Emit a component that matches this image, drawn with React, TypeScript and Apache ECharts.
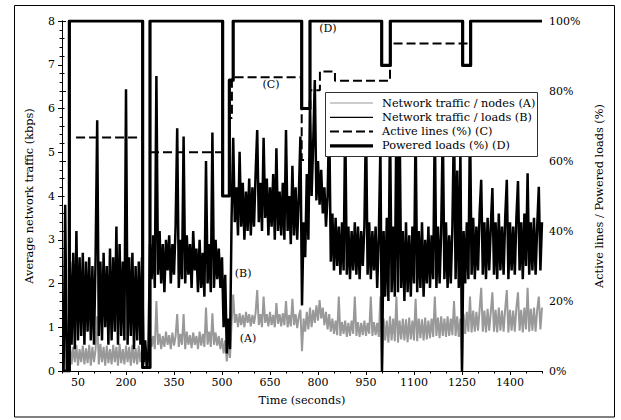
import React, { useEffect, useRef } from "react";
import * as echarts from "echarts";

// Sampling step of the traffic series (seconds)
const TIME_STEP = 5;

// Network traffic / nodes (A), kbps, one value every 5 s from t = 0 to 1500
const trafficNodes: number[] = [
  0, 0, 0, 0, 0, 0.6, 0.15, 0.55, 0.2, 0.6,
  0.12, 0.5, 0.2, 0.58, 0.15, 0.52, 0.18, 0.6, 0.12, 0.55,
  0.2, 0.5, 1.25, 0.15, 0.62, 0.2, 0.55, 0.12, 0.58, 0.18,
  0.5, 0.15, 0.6, 0.2, 0.55, 0.12, 0.62, 0.18, 0.5, 0.15,
  0.58, 0.2, 0.55, 0.12, 0.6, 0.18, 0.52, 0.15, 0.58, 0.2,
  0.5, 0.15, 0.45, 0.08, 0.3, 0.85, 0.55, 0.8, 0.5, 1.6,
  0.6, 0.85, 0.5, 0.8, 0.55, 0.9, 0.6, 0.82, 0.5, 0.88,
  0.58, 0.8, 1.3, 0.55, 0.85, 0.6, 1.3, 0.5, 0.9, 0.6,
  0.82, 0.52, 0.88, 0.6, 0.8, 0.5, 0.9, 0.58, 0.85, 0.55,
  1.45, 0.6, 0.9, 0.55, 1.32, 0.6, 0.88, 0.58, 0.8, 0.5,
  0.75, 0.4, 0.7, 0.22, 0.6, 0.3, 1.1, 1.75, 1.1, 1.3,
  1.0, 1.32, 1.05, 1.28, 1.0, 1.35, 1.1, 1.3, 1.02, 1.28,
  1.08, 1.33, 1.85, 1.05, 1.3, 1.0, 1.7, 1.1, 1.3, 1.02,
  1.35, 1.05, 1.28, 1.0, 1.55, 1.08, 1.3, 1.02, 1.32, 1.05,
  1.6, 1.0, 1.28, 1.02, 1.65, 1.05, 1.3, 0.98, 1.25, 1.4,
  0.45, 1.2, 0.9, 1.35, 0.95, 1.45, 1.0, 1.4, 1.1, 1.5,
  1.15, 1.62, 1.2, 1.45, 1.05, 1.35, 0.95, 1.3, 0.9, 1.2,
  0.85, 1.15, 0.82, 1.7, 0.8, 1.12, 0.85, 1.15, 0.78, 1.1,
  0.8, 1.15, 0.85, 1.7, 0.8, 1.12, 0.78, 1.1, 0.82, 1.15,
  0.8, 1.1, 0.85, 1.7, 0.8, 1.12, 0.82, 1.1, 0.78, 1.7,
  0, 1.2, 0.7, 1.15, 0.65, 1.25, 0.7, 1.2, 0.68, 1.7,
  0.65, 1.15, 0.72, 1.2, 0.7, 1.18, 0.66, 1.22, 0.72, 1.15,
  0.7, 1.65, 0.68, 1.2, 0.75, 1.18, 0.7, 1.22, 0.72, 1.15,
  0.75, 1.2, 0.78, 1.7, 0.8, 1.22, 0.75, 1.25, 0.8, 1.2,
  0.78, 1.25, 0.8, 1.2, 0.82, 1.6, 0.8, 1.25, 0.78, 1.2,
  0, 1.3, 0.85, 1.35, 0.9, 1.7, 0.88, 1.38, 0.9, 1.35,
  0.92, 1.4, 1.9, 0.9, 1.38, 0.88, 1.42, 0.92, 1.35, 1.8,
  0.9, 1.4, 0.88, 1.45, 0.92, 1.38, 0.9, 1.42, 1.85, 0.88,
  1.4, 0.92, 1.38, 0.9, 1.45, 1.8, 0.92, 1.4, 0.88, 1.45,
  0.95, 1.9, 0.9, 1.42, 0.92, 1.45, 0.9, 1.4, 1.7, 0.95,
  1.45,
];

// Network traffic / loads (B), kbps, one value every 5 s from t = 0 to 1500
const trafficLoads: number[] = [
  0, 0, 3.8, 0, 0, 2.5, 0.6, 2.7, 0.5, 3.2,
  0.7, 2.6, 0.8, 2.7, 0.6, 2.5, 0.9, 2.6, 0.7, 2.4,
  0.6, 2.6, 5.73, 0.8, 2.5, 0.7, 2.7, 1.0, 2.4, 0.6,
  2.8, 0.7, 2.6, 0.9, 3.3, 0.6, 2.9, 0.8, 2.5, 0.7,
  6.44, 0.6, 2.6, 0.8, 2.7, 0.5, 2.4, 0.7, 2.5, 0.6,
  2.6, 0.2, 0.7, 0.1, 0.4, 2.9, 2.1, 3.1, 1.9, 6.74,
  2.2, 3.2, 2.0, 2.9, 1.8, 3.0, 2.3, 3.1, 2.0, 2.9,
  2.2, 3.3, 5.55, 1.9, 3.0, 2.1, 5.36, 2.0, 3.1, 2.2,
  2.9, 1.9, 3.2, 2.3, 2.8, 1.8, 3.0, 1.9, 2.7, 1.7,
  4.8, 2.0, 2.9, 1.8, 5.45, 1.9, 3.0, 2.1, 2.8, 1.9,
  2.6, 1.0, 2.2, 0.4, 1.2, 0.5, 3.5, 5.33, 3.4, 4.2,
  3.1, 5.01, 3.3, 4.3, 3.0, 4.1, 3.2, 4.4, 3.1, 4.2,
  3.3, 4.5, 5.51, 3.4, 4.3, 3.2, 5.33, 3.5, 4.4, 3.1,
  4.2, 3.3, 4.5, 3.0, 5.09, 3.2, 4.1, 3.1, 4.3, 3.0,
  5.51, 3.2, 4.0, 2.9, 4.69, 3.1, 4.2, 3.0, 4.0, 5.36,
  1.5, 3.4, 2.6, 4.5, 3.0, 6.19, 4.0, 5.2, 6.65, 3.9,
  4.8, 3.8, 4.6, 3.6, 4.2, 3.3, 4.0, 5.8, 2.5, 3.6,
  2.3, 3.5, 2.4, 3.3, 2.2, 3.4, 2.3, 5.8, 2.2, 3.3,
  2.1, 3.2, 2.3, 3.4, 2.2, 3.3, 2.1, 3.2, 2.4, 3.3,
  5.8, 2.2, 3.4, 2.1, 3.2, 2.3, 3.3, 1.9, 3.1, 5.1,
  0, 3.2, 1.7, 3.5, 1.6, 5.8, 1.8, 3.3, 1.7, 5.8,
  1.8, 5.8, 1.9, 3.2, 1.6, 3.4, 1.8, 3.1, 1.7, 3.3,
  2.0, 5.6, 1.8, 3.2, 1.9, 3.4, 1.7, 3.0, 2.0, 3.3,
  1.9, 3.1, 2.1, 5.8, 1.9, 3.3, 2.0, 3.2, 5.6, 2.1,
  3.4, 1.9, 3.1, 2.0, 3.3, 5.8, 2.1, 4.58, 1.9, 5.1,
  0, 3.2, 2.0, 3.4, 2.1, 5.8, 2.2, 3.5, 2.1, 3.3,
  2.3, 3.6, 4.37, 2.2, 3.4, 2.1, 3.5, 2.3, 3.3, 4.18,
  2.2, 3.4, 2.1, 3.6, 2.3, 3.3, 2.2, 3.5, 4.37, 2.1,
  3.4, 2.3, 3.3, 2.2, 3.5, 4.34, 2.3, 3.4, 2.1, 3.6,
  2.4, 4.52, 2.2, 3.4, 2.3, 3.5, 2.2, 3.3, 4.21, 2.3,
  3.4,
];

// Active lines (%) (C): [time, percent], null = not drawn
const activeLines: [number, number | null][] = [
  [44, 66.7], [252, 66.7], [253, null], [274, null], [275, 62.5], [502, 62.5],
  [502, 50], [523, 50], [523, 72.3], [531, 72.3], [531, 83.9], [749, 83.9],
  [749, 60.3], [775, 60.3], [775, 80.2], [806, 80.2], [806, 85.6], [853, 85.6],
  [853, 82.9], [1025, 82.9], [1025, 93.6], [1277, 93.6], [1277, 100], [1500, 100],
];

// Powered loads (%) (D): [time, percent]
const poweredLoads: [number, number][] = [
  [0, 0], [23, 0], [23, 100], [252, 100], [252, 1], [275, 1], [275, 100],
  [502, 100], [502, 50], [523, 50], [523, 83.1], [535, 83.1], [535, 100],
  [749, 100], [749, 75], [775, 75], [775, 100], [999, 100], [999, 87.3],
  [1026, 87.3], [1026, 100], [1252, 100], [1252, 87.3], [1277, 87.3],
  [1277, 100], [1500, 100],
];

// Curve labels: [time, kbps, text]
const curveLabels: [number, number, string][] = [
  [581, 0.75, "(A)"],
  [566, 2.24, "(B)"],
  [653, 6.54, "(C)"],
  [831, 7.84, "(D)"],
];

const xLabelTicks = [50, 200, 350, 500, 650, 800, 950, 1100, 1250, 1400];

const seriesNames = [
  "Network traffic / nodes (A)",
  "Network traffic / loads (B)",
  "Active lines (%) (C)",
  "Powered loads (%) (D)",
];

const FONT = "DejaVu Serif";

const lineStyles = [
  { color: "#999", width: 2 },
  { color: "#000", width: 2.5 },
  { color: "#000", width: 2, type: [9, 4] as number[] },
  { color: "#000", width: 3.2 },
];

export default function App() {
  const ref = useRef<HTMLDivElement>(null);

  useEffect(() => {
    document.body.style.margin = "0";
    if (!ref.current) return;
    const chart = echarts.init(ref.current, undefined, { renderer: "svg" });
    const toPairs = (arr: number[]) => arr.map((v, i) => [i * TIME_STEP, v]);
    const axisCommon = {
      axisLine: { show: true, lineStyle: { color: "#000", width: 1 } },
      splitLine: { show: false },
      axisLabel: { color: "#000", fontFamily: FONT, fontSize: 11 },
      nameTextStyle: { color: "#000", fontFamily: FONT, fontSize: 11.3 },
    };

    // legend box drawn as graphic elements
    const legendX = 325;
    const legendY = 92;
    const rowH = 14.3;
    const legendChildren: any[] = [
      {
        type: "rect",
        id: "legend-box",
        z: 50,
        shape: { x: legendX + 0.5, y: legendY + 0.5, width: 212, height: 64 },
        style: { fill: "#fff", stroke: "#333", lineWidth: 1 },
      },
    ];
    seriesNames.forEach((name, i) => {
      const cy = legendY + 11 + i * rowH;
      const ls = lineStyles[i];
      legendChildren.push({
        type: "line",
        id: "legend-line-" + i,
        z: 51,
        shape: { x1: legendX + 5, y1: cy, x2: legendX + 48, y2: cy },
        style: {
          stroke: ls.color,
          lineWidth: i === 0 ? 1.1 : i === 1 ? 1.2 : ls.width,
          lineDash: (ls as any).type || null,
        },
      });
      legendChildren.push({
        type: "text",
        id: "legend-text-" + i,
        z: 51,
        x: legendX + 57,
        y: cy,
        style: {
          text: name,
          fill: "#000",
          font: `11.3px "${FONT}"`,
          verticalAlign: "middle",
          align: "left",
        },
      });
    });

    chart.setOption({
      animation: false,
      backgroundColor: "#fff",
      textStyle: { fontFamily: FONT },
      graphic: [
        ...legendChildren.map((c) => ({ ...c, silent: true })),
        {
          type: "rect",
          id: "frame",
          shape: { x: 14.5, y: 5.5, width: 600, height: 411.5 },
          style: { fill: "none", stroke: "#000", lineWidth: 1 },
          z: 100,
          silent: true,
        },
      ],
      grid: { left: 62, right: 79, top: 21, bottom: 49, containLabel: false },
      xAxis: [
        {
          ...axisCommon,
          type: "value",
          min: 0,
          max: 1500,
          name: "Time (seconds)",
          nameLocation: "middle",
          nameGap: 24,
          axisTick: { show: true, length: 4, customValues: xLabelTicks, lineStyle: { color: "#000" } },
          axisLabel: {
            ...axisCommon.axisLabel,
            margin: 6,
            customValues: xLabelTicks,
            formatter: (v: number) => String(v),
          },
        },
        {
          type: "value",
          min: 0,
          max: 1500,
          interval: 50,
          position: "bottom",
          offset: 0,
          axisLine: { show: false },
          axisTick: { show: true, length: 2.5, lineStyle: { color: "#000" } },
          axisLabel: { show: false },
          splitLine: { show: false },
        },
      ],
      yAxis: [
        {
          ...axisCommon,
          type: "value",
          min: 0,
          max: 8,
          interval: 1,
          position: "left",
          name: "Average network traffic (kbps)",
          nameLocation: "middle",
          nameGap: 27,
          nameRotate: 90,
          axisTick: { show: true, length: 4, lineStyle: { color: "#000" } },
          minorTick: { show: true, splitNumber: 5, length: 2.5, lineStyle: { color: "#000" } },
          axisLabel: { ...axisCommon.axisLabel, margin: 7 },
        },
        {
          ...axisCommon,
          type: "value",
          min: 0,
          max: 100,
          interval: 20,
          position: "right",
          name: "Active lines / Powered loads (%)",
          nameLocation: "middle",
          nameGap: 52,
          nameRotate: 90,
          axisTick: { show: true, length: 4, lineStyle: { color: "#000" } },
          minorTick: { show: true, splitNumber: 4, length: 2.5, lineStyle: { color: "#000" } },
          axisLabel: { ...axisCommon.axisLabel, margin: 7, formatter: "{value}%" },
        },
      ],
      series: [
        {
          name: seriesNames[0],
          type: "line",
          xAxisIndex: 0,
          yAxisIndex: 0,
          data: toPairs(trafficNodes),
          symbol: "none",
          color: "#999",
          lineStyle: lineStyles[0],
          z: 2,
        },
        {
          name: seriesNames[1],
          type: "line",
          xAxisIndex: 0,
          yAxisIndex: 0,
          data: toPairs(trafficLoads),
          symbol: "none",
          color: "#000",
          lineStyle: lineStyles[1],
          z: 3,
        },
        {
          name: seriesNames[2],
          type: "line",
          xAxisIndex: 0,
          yAxisIndex: 1,
          data: activeLines,
          connectNulls: false,
          symbol: "none",
          color: "#000",
          lineStyle: lineStyles[2],
          z: 4,
        },
        {
          name: seriesNames[3],
          type: "line",
          xAxisIndex: 0,
          yAxisIndex: 1,
          data: poweredLoads,
          symbol: "none",
          color: "#000",
          lineStyle: { ...lineStyles[3], join: "round" },
          z: 5,
        },
      ],
    });

    // curve labels placed through the chart's own scales
    const labelGraphics = curveLabels.map((d, i) => {
      const p = chart.convertToPixel({ xAxisIndex: 0, yAxisIndex: 0 }, [d[0], d[1]]) as number[];
      return {
        type: "text",
        id: "curve-label-" + i,
        x: p[0],
        y: p[1],
        z: 60,
        silent: true,
        style: {
          text: d[2],
          fill: "#000",
          font: `11px "${FONT}"`,
          align: "center",
          verticalAlign: "middle",
        },
      };
    });
    chart.setOption({ graphic: labelGraphics });

    return () => chart.dispose();
  }, []);

  return <div ref={ref} style={{ width: 621, height: 420 }} />;
}
